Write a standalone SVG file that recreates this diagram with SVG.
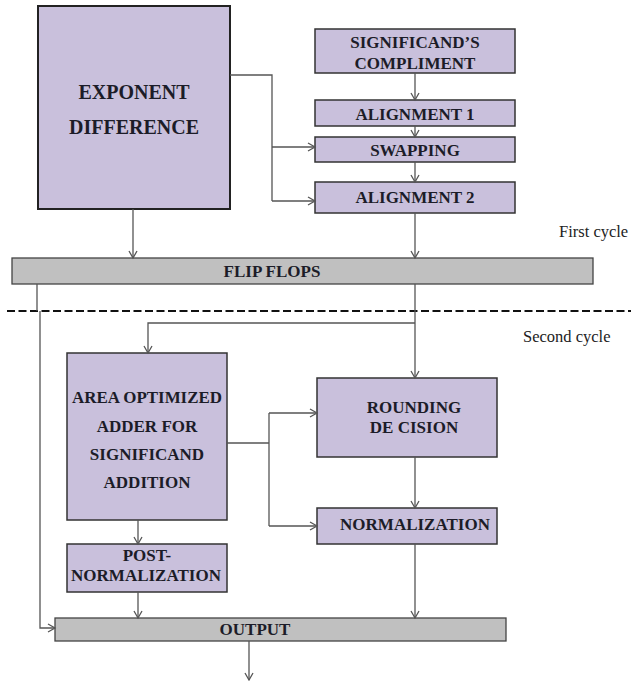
<svg xmlns="http://www.w3.org/2000/svg" width="631" height="681" viewBox="0 0 631 681">
<defs>
<marker id="arr" markerUnits="userSpaceOnUse" markerWidth="10" markerHeight="10" refX="8" refY="5" orient="auto">
<path d="M1,1 L8,5 L1,9" fill="none" stroke="#555" stroke-width="1.3"/>
</marker>
<style>
.box{fill:#c9c0dc;stroke:#333;stroke-width:1.5}
.bar{fill:#c0c0c0;stroke:#444;stroke-width:1.3}
text{font-family:'Liberation Serif','Times New Roman',serif}
.t{font-weight:bold;font-size:17px;fill:#1c1c28;text-anchor:middle}
.big{font-size:20px}
.c{font-size:16.5px;fill:#222}
.ln{fill:none;stroke:#555;stroke-width:1.3}
</style>
</defs>
<rect width="631" height="681" fill="#fff"/>
<g id="exponent-difference">
<rect x="38" y="6" width="192" height="203" fill="#c9c0dc" stroke="#222" stroke-width="2"/>
<text class="t big" x="134" y="99">EXPONENT</text>
<text class="t big" x="134" y="134">DIFFERENCE</text>
</g>
<g id="significands-compliment">
<rect class="box" x="315" y="29" width="200" height="44"/>
<text class="t" x="415" y="48">SIGNIFICAND’S</text>
<text class="t" x="415" y="69">COMPLIMENT</text>
</g>
<g id="alignment-1">
<rect class="box" x="315" y="100" width="200" height="26"/>
<text class="t" x="415" y="120">ALIGNMENT 1</text>
</g>
<g id="swapping">
<rect class="box" x="315" y="137" width="200" height="25"/>
<text class="t" x="415" y="156">SWAPPING</text>
</g>
<g id="alignment-2">
<rect class="box" x="315" y="182" width="200" height="31"/>
<text class="t" x="415" y="203">ALIGNMENT 2</text>
</g>
<g id="flip-flops">
<rect class="bar" x="12" y="258" width="581" height="26"/>
<text class="t" x="272" y="277">FLIP FLOPS</text>
</g>
<g id="area-optimized-adder">
<rect class="box" x="67" y="353" width="160" height="167"/>
<text class="t" x="147" y="403" textLength="150" lengthAdjust="spacingAndGlyphs">AREA OPTIMIZED</text>
<text class="t" x="147" y="432">ADDER FOR</text>
<text class="t" x="147" y="460">SIGNIFICAND</text>
<text class="t" x="147" y="488">ADDITION</text>
</g>
<g id="post-normalization">
<rect class="box" x="67" y="544" width="160" height="48"/>
<text class="t" x="147" y="561">POST-</text>
<text class="t" x="146" y="581">NORMALIZATION</text>
</g>
<g id="rounding-decision">
<rect class="box" x="317" y="378" width="180" height="79"/>
<text class="t" x="414" y="413">ROUNDING</text>
<text class="t" x="414" y="433">DE CISION</text>
</g>
<g id="normalization">
<rect class="box" x="317" y="508" width="180" height="36"/>
<text class="t" x="415" y="530">NORMALIZATION</text>
</g>
<g id="output">
<rect class="bar" x="55" y="618" width="451" height="23"/>
<text class="t" x="255" y="635">OUTPUT</text>
</g>
<g id="labels">
<text class="c" x="559" y="237">First cycle</text>
<text class="c" x="523" y="342">Second cycle</text>
<line x1="7" y1="311" x2="631" y2="311" stroke="#111" stroke-width="2" stroke-dasharray="8,3.5"/>
</g>
<g id="connectors">
<path class="ln" d="M230,75 H272 V201"/>
<path class="ln" d="M272,147 H315" marker-end="url(#arr)"/>
<path class="ln" d="M272,201 H315" marker-end="url(#arr)"/>
<path class="ln" d="M133,209 V258" marker-end="url(#arr)"/>
<path class="ln" d="M415,73 V100" marker-end="url(#arr)"/>
<path class="ln" d="M415,126 V137" marker-end="url(#arr)"/>
<path class="ln" d="M415,162 V182" marker-end="url(#arr)"/>
<path class="ln" d="M415,213 V258" marker-end="url(#arr)"/>
<path class="ln" d="M415,284 V378" marker-end="url(#arr)"/>
<path class="ln" d="M415,323 H148 V353" marker-end="url(#arr)"/>
<path class="ln" d="M227,443 H269"/>
<path class="ln" d="M269,413 V526"/>
<path class="ln" d="M269,413 H317" marker-end="url(#arr)"/>
<path class="ln" d="M269,526 H317" marker-end="url(#arr)"/>
<path class="ln" d="M415,457 V508" marker-end="url(#arr)"/>
<path class="ln" d="M415,544 V618" marker-end="url(#arr)"/>
<path class="ln" d="M138,520 V544" marker-end="url(#arr)"/>
<path class="ln" d="M138,592 V618" marker-end="url(#arr)"/>
<path class="ln" d="M37,284 V311"/>
<path class="ln" d="M40,311 V628 H55" marker-end="url(#arr)"/>
<path class="ln" d="M249,641 V680" marker-end="url(#arr)"/>
</g>
</svg>
